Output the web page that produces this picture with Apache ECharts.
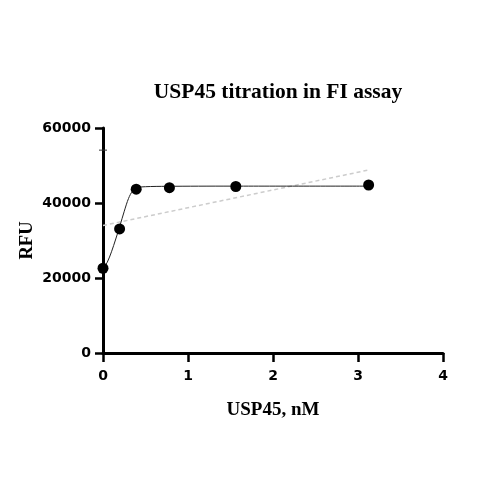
<!DOCTYPE html>
<html>
<head>
<meta charset="utf-8">
<script src="https://cdn.jsdelivr.net/npm/echarts@6/dist/echarts.min.js"></script>
<style>
  html, body { margin: 0; padding: 0; background: #fff; }
  #chart { width: 496px; height: 496px; }
</style>
</head>
<body>
<div id="chart"></div>
<script>
// measured points (USP45 nM, RFU)
const conc = [0, 0.1953, 0.3906, 0.7813, 1.5625, 3.125];
const rfu = [22600, 33100, 43700, 44100, 44400, 44800];
// fitted curve
const fitX = [0, 0.05, 0.1, 0.15, 0.2, 0.25, 0.3, 0.35, 0.4, 0.5, 0.75, 1.5, 3.125];
const fitY = [22600, 24200, 27000, 30400, 34000, 37800, 41200, 43300, 44100, 44350, 44450, 44500, 44500];
// dashed straight line
const lineX = [0, 3.125];
const lineY = [34000, 48800];
// small stray cap near the y axis
const capX = [0];
const capY = [54100];

const chart = echarts.init(document.getElementById('chart'));
const labelFont = { color: '#000', fontFamily: 'DejaVu Sans', fontWeight: 'bold', fontSize: 14 };

chart.setOption({
  backgroundColor: '#fff',
  animation: false,
  title: {
    text: 'USP45 titration in FI assay',
    left: 273,
    textAlign: 'center',
    top: 76,
    textStyle: { fontFamily: 'Liberation Serif', fontWeight: 'bold', fontSize: 21.5, color: '#000' }
  },
  grid: { left: 103, right: 53, top: 128, bottom: 143 },
  xAxis: {
    type: 'value',
    min: 0, max: 4, interval: 1,
    name: 'USP45, nM',
    nameLocation: 'middle',
    nameGap: 48,
    nameTextStyle: { fontFamily: 'Liberation Serif', fontWeight: 'bold', fontSize: 19, color: '#000' },
    axisLine: { onZero: false, lineStyle: { color: '#000', width: 3 } },
    axisTick: { show: true, length: 9, lineStyle: { color: '#000', width: 2.5 } },
    axisLabel: Object.assign({ margin: 16, formatter: v => String(v) }, labelFont),
    splitLine: { show: false }
  },
  yAxis: {
    type: 'value',
    min: 0, max: 60000, interval: 20000,
    name: 'RFU',
    nameLocation: 'middle',
    nameGap: 66,
    nameMoveOverlap: false,
    nameTextStyle: { fontFamily: 'Liberation Serif', fontWeight: 'bold', fontSize: 18.5, color: '#000' },
    axisLine: { show: true, onZero: false, lineStyle: { color: '#000', width: 3 } },
    axisTick: { show: true, length: 8, lineStyle: { color: '#000', width: 2.5 } },
    axisLabel: Object.assign({ margin: 12, formatter: v => String(v) }, labelFont),
    splitLine: { show: false }
  },
  series: [
    {
      type: 'line',
      data: lineX.map((x, i) => [x, lineY[i]]),
      showSymbol: false,
      lineStyle: { color: '#cccccc', width: 1.5, type: [4, 3] },
      z: 1
    },
    {
      type: 'line',
      data: fitX.map((x, i) => [x, fitY[i]]),
      smooth: 0.3,
      showSymbol: false,
      lineStyle: { color: '#222', width: 1 },
      z: 2
    },
    {
      type: 'scatter',
      data: conc.map((x, i) => [x, rfu[i]]),
      symbol: 'circle',
      symbolSize: 11,
      itemStyle: { color: '#000', opacity: 1 },
      z: 3
    },
    {
      type: 'scatter',
      data: capX.map((x, i) => [x, capY[i]]),
      symbol: 'rect',
      symbolSize: [8, 1],
      itemStyle: { color: '#333', opacity: 1 },
      z: 3
    }
  ]
});
</script>
</body>
</html>
